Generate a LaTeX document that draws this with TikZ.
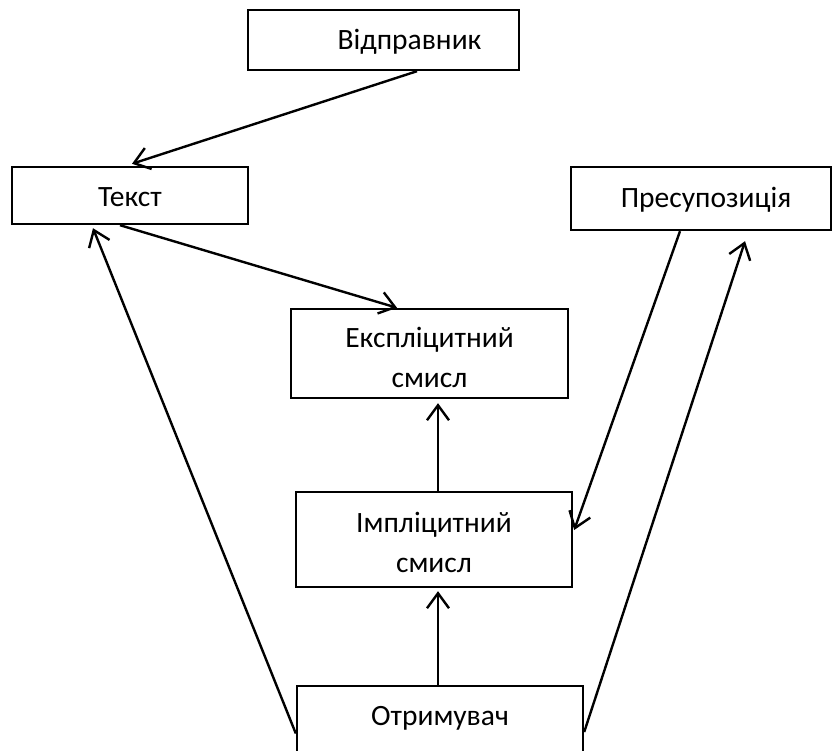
\documentclass[tikz,border=0pt]{standalone}
\usepackage{fontspec}
\setmainfont{Carlito}
\usetikzlibrary{arrows.meta}
\begin{document}
\begin{tikzpicture}[x=1pt,y=-1pt,
  txt/.style={font=\fontsize{29.5}{40}\selectfont, align=center},
  box/.style={draw=black, line width=2.4pt, rectangle, inner sep=0pt, align=center, txt},
  arr/.style={draw=black, line width=2.4pt, -{Straight Barb[length=15pt,width=22pt,line width=2.4pt]}}]
\useasboundingbox (0,0) rectangle (832,751);
\node[box, minimum width=271pt, minimum height=60pt,
  label={[txt, xshift=26pt, yshift=-2pt]center:Відправник}] (otpr) at (383.5,40) {};
\node[box, minimum width=236pt, minimum height=57pt,
  label={[txt, yshift=-1.5pt]center:Текст}] (text) at (130,195.5) {};
\node[box, minimum width=260pt, minimum height=63pt,
  label={[txt, xshift=5pt, yshift=-1pt]center:Пресупозиція}] (pres) at (701,198.5) {};
\node[box, minimum width=277pt, minimum height=89pt,
  label={[txt, yshift=-4pt]center:Експліцитний\\смисл}] (expl) at (429.5,353.5) {};
\node[box, minimum width=276pt, minimum height=95pt,
  label={[txt, yshift=-3pt]center:Імпліцитний\\смисл}] (impl) at (434,539.5) {};
\node[box, minimum width=286pt, minimum height=95pt,
  label={[txt, anchor=center, yshift=-33pt]north:Отримувач}] (recv) at (440,733.5) {};
\draw[arr] ([xshift=33.5pt]otpr.south) -- ([xshift=2pt,yshift=2pt]text.north);
\draw[arr] ([xshift=-10pt]text.south) -- ([xshift=-32.5pt]expl.north);
\draw[arr] (recv.west) -- ([xshift=-37pt,yshift=-3pt]text.south);
\draw[arr] ([xshift=-2pt]recv.north) -- ([xshift=4pt,yshift=-3pt]impl.south);
\draw[arr] ([xshift=4pt]impl.north) -- ([xshift=8.5pt,yshift=-4pt]expl.south);
\draw[arr] ([xshift=-21pt]pres.south) -- ([xshift=1pt,yshift=9.5pt]impl.east);
\draw[arr] ([yshift=1.5pt]recv.east) -- ([xshift=44pt,yshift=-10pt]pres.south);
\end{tikzpicture}
\end{document}
